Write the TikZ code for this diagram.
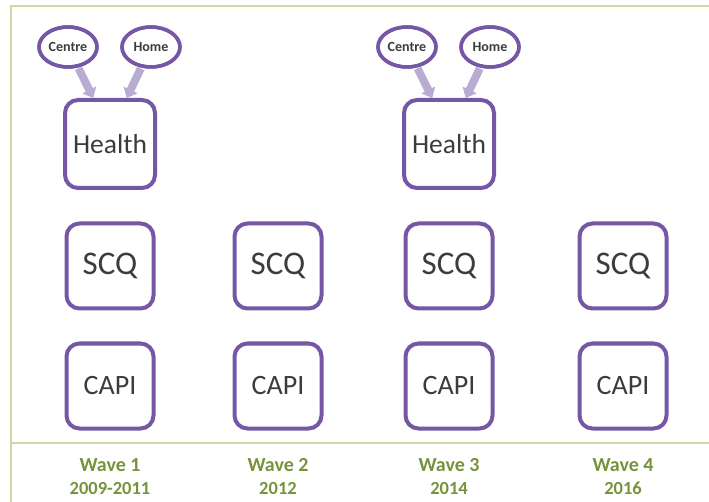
\documentclass[tikz,border=0pt]{standalone}
\usepackage{fontspec}
\setmainfont{Carlito}
\usetikzlibrary{arrows.meta,positioning,shapes.geometric}
\definecolor{wpurple}{HTML}{7557A6}
\definecolor{wlilac}{HTML}{B9ACD2}
\definecolor{wgreen}{HTML}{77933C}
\definecolor{wrule}{HTML}{C8DBA5}
\definecolor{wtext}{HTML}{3C3C3C}
\tikzset{
  module/.style = {draw=wpurple, line width=4pt, rounded corners=13pt,
                   fill=white, minimum width=87pt, minimum height=85pt,
                   text=wtext, font=\fontsize{28}{30}\selectfont},
  site/.style   = {draw=wpurple, line width=3.5pt, ellipse, fill=white,
                   minimum width=58pt, minimum height=40pt, inner sep=0pt,
                   text=wtext, font=\fontsize{14}{15}\selectfont\bfseries},
  feed/.style   = {-{Triangle[length=9pt,width=15pt]}, line width=8pt,
                   draw=wlilac, shorten <=1pt},
  wave/.style   = {text=wgreen, font=\fontsize{20}{23}\selectfont\bfseries,
                   align=center},
  rule/.style   = {draw=wrule, line width=1.5pt},
}

\begin{document}
\begin{tikzpicture}[x=1pt,y=-1pt]
\useasboundingbox (0,0) rectangle (709,502);
% frame
\draw[rule] (11,502) -- (11,6) -- (709,6);
\draw[rule] (11,443) -- (709,443);
% the four waves
\foreach \n/\x/\yr in {1/110/2009-2011, 2/278/2012, 3/449/2014, 4/623/2016} {
  \node[module, font=\fontsize{33}{35}\selectfont] (scq\n) at (\x,266) {SCQ};
  \node[module] (capi\n) at (\x,386) {CAPI};
  \node[wave] (wave\n) at (\x,477) {Wave \n\\{\fontsize{18.5}{23}\selectfont\yr}};
}
% health assessment, centre or home
\foreach \n/\x in {1/110, 3/449} {
  \node[module, minimum width=90pt, minimum height=88pt,
        font=\fontsize{27.5}{29}\selectfont] (health\n) at (\x,144) {Health};
  \node[site] (centre\n) at (\x-42,47) {Centre};
  \node[site] (home\n) at (\x+41,47) {Home};
  \draw[feed] (centre\n) -- (health\n.110);
  \draw[feed] (home\n) -- (health\n.70);
  \draw[draw=wpurple, line width=3.5pt] (centre\n.center) ellipse (29pt and 20pt);
  \draw[draw=wpurple, line width=3.5pt] (home\n.center) ellipse (29pt and 20pt);
}
\end{tikzpicture}
\end{document}
